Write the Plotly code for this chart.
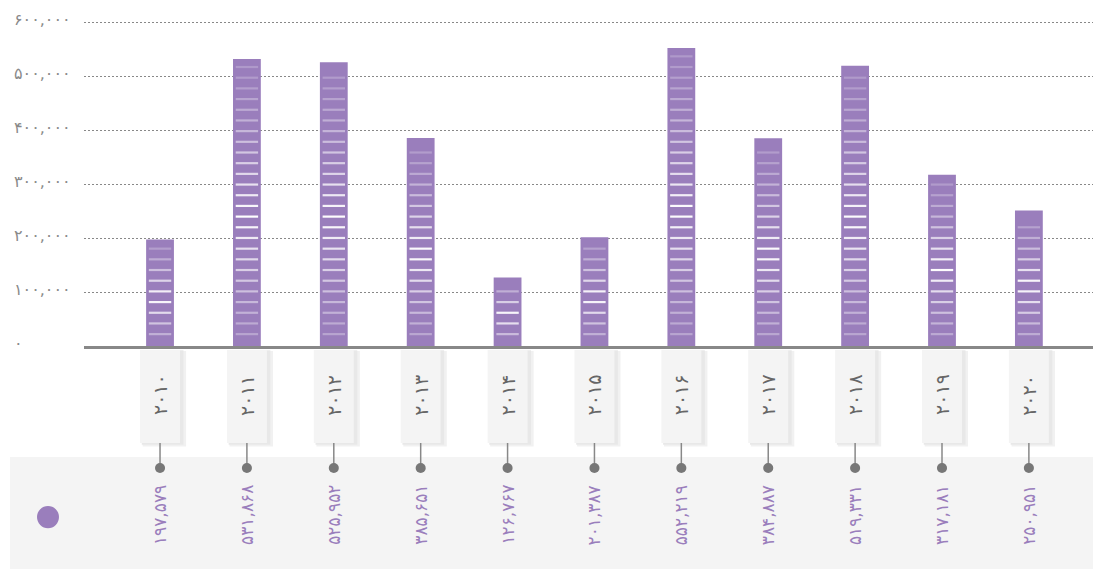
import plotly.graph_objects as go

# data
years = [2010, 2011, 2012, 2013, 2014, 2015, 2016, 2017, 2018, 2019, 2020]
values = [197579, 531868, 525952, 385651, 126767, 201387, 552219, 384887, 519331, 317181, 250951]
y_ticks = [0, 100000, 200000, 300000, 400000, 500000, 600000]

PURPLE = "#9a7ebc"
FONT = "DejaVu Sans"
FA = str.maketrans("0123456789", "۰۱۲۳۴۵۶۷۸۹")


def fa(n, sep=True):
    s = f"{n:,}" if sep else str(n)
    return s.translate(FA)


cats = [fa(y, sep=False) for y in years]

fig = go.Figure()
fig.add_trace(go.Bar(x=cats, y=values, marker_color=PURPLE, width=0.32,
                     marker_line_width=0, hoverinfo="skip"))

# white dashes inside each bar
sx, sy, sc = [], [], []
for c, v in zip(cats, values):
    y = 22000
    while y < v - 12000:
        f = y / v
        a = 0.2 + 0.8 * max(0.0, 1 - abs(f - 0.45) / 0.55) ** 1.5
        sx.append(c)
        sy.append(y)
        sc.append(f"rgba(255,255,255,{a:.2f})")
        y += 19800
fig.add_trace(go.Scatter(x=sx, y=sy, mode="markers", hoverinfo="skip",
                         marker=dict(symbol="line-ew", size=16,
                                     line=dict(width=2.2, color=sc))))

shapes = []
ann = []

# grey panel under the chart
shapes.append(dict(type="rect", xref="paper", yref="paper", x0=-0.0728, x1=1.01,
                   y0=-0.3394, y1=-0.75, fillcolor="#f4f4f4", line_width=0, layer="below"))
shapes.append(dict(type="circle", xref="paper", yref="paper", x0=-0.0462, x1=-0.0246,
                   y0=-0.557, y1=-0.489, fillcolor=PURPLE, line_width=0))

for i, (c, v) in enumerate(zip(cats, values)):
    # label card with a soft shadow
    shapes.append(dict(type="rect", xref="x", yref="paper", x0=i - 0.2, x1=i + 0.3,
                       y0=-0.015, y1=-0.307, fillcolor="#f1f1f1", line_width=0, layer="below"))
    shapes.append(dict(type="rect", xref="x", yref="paper", x0=i - 0.21, x1=i + 0.27,
                       y0=-0.013, y1=-0.302, fillcolor="#e8e8e8", line_width=0, layer="below"))
    shapes.append(dict(type="rect", xref="x", yref="paper", x0=i - 0.23, x1=i + 0.23,
                       y0=-0.012, y1=-0.2966, fillcolor="#f4f4f4", line_width=0))
    shapes.append(dict(type="line", xref="x", yref="paper", x0=i, x1=i,
                       y0=-0.2966, y1=-0.373, line=dict(color="#888", width=1.5)))
    shapes.append(dict(type="circle", xref="x", yref="paper", x0=i - 0.058, x1=i + 0.058,
                       y0=-0.388, y1=-0.358, fillcolor="#777", line_width=0))
    ann.append(dict(x=c, y=-0.1498, xref="x", yref="paper", text=c, showarrow=False,
                    textangle=-90, xanchor="center", yanchor="middle",
                    font=dict(family=FONT, size=19, color="#666")))
    ann.append(dict(x=c, y=-0.5168, xref="x", yref="paper", text=fa(v), showarrow=False,
                    textangle=-90, xanchor="center", yanchor="middle",
                    font=dict(family=FONT, size=17, color=PURPLE)))

for t in y_ticks:
    ann.append(dict(x=0, y=t, xref="paper", yref="y", text=fa(t), showarrow=False,
                    xanchor="left", yanchor="middle", xshift=-72, yshift=3,
                    font=dict(family=FONT, size=16, color="#8a8a8a")))

# the page body keeps an 8px margin, so the figure is drawn 8px smaller
fig.update_layout(
    width=1093, height=561,
    margin=dict(l=76, r=0, t=11, b=223),
    plot_bgcolor="white", paper_bgcolor="white",
    showlegend=False, bargap=0.6,
    shapes=shapes, annotations=ann,
    xaxis=dict(range=[-0.875, 10.83], showticklabels=False, showgrid=False,
               showline=True, linecolor="#888", linewidth=2.5, ticks="", zeroline=False,
               fixedrange=True),
    yaxis=dict(range=[0, 606000], tickvals=y_ticks, showticklabels=False,
               gridcolor="#888", griddash="1.5px,2.5px", gridwidth=1, zeroline=False,
               fixedrange=True),
)

fig.write_html("out.html")
